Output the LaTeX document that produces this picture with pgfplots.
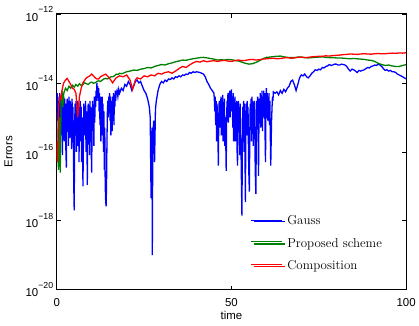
\documentclass[border=0pt]{standalone}
\usepackage{pgfplots}
\pgfplotsset{compat=1.18}
\usepackage{fontspec}
\newfontfamily\hv{Liberation Sans}
\definecolor{mblue}{rgb}{0,0,1}
\definecolor{mgreen}{rgb}{0,0.5,0}
\definecolor{mred}{rgb}{1,0,0}
\newcommand{\tl}[1]{10\raisebox{8.5pt}{\fontsize{8.8}{9}\selectfont −#1}}
\begin{document}
\begin{tikzpicture}
\begin{axis}[
 scale only axis, width=351pt, height=277pt,
 ymode=log, xmin=0, xmax=100, ymin=1e-20, ymax=1e-12,
 xtick={0,50,100}, xticklabels={0,50,100},
 ytick={1e-20,1e-18,1e-16,1e-14,1e-12},
 yticklabels={\tl{20},\tl{18},\tl{16},\tl{14},\tl{12}},
 yminorticks=false, xminorticks=false,
 tick align=inside, major tick length=4pt,
 tick style={black, line width=0.6pt},
 axis line style={line width=1pt},
 ticklabel style={font=\hv\fontsize{11.5}{13}\selectfont},
 xticklabel style={yshift=-5pt},
 xlabel={time}, ylabel={Errors},
 label style={font=\hv\fontsize{11.5}{13}\selectfont},
 xlabel style={at={(axis description cs:0.5,0)}, anchor=base, yshift=-29.5pt},
 ylabel style={at={(axis description cs:0,0.5)}, anchor=center, yshift=48.5pt},
 legend style={draw=none, fill=none, at={(axis description cs:0.553,0.283)}, anchor=north west,
   font=\fontsize{13}{15}\selectfont, row sep=7pt,
   nodes={inner sep=2pt, text height=9pt, text depth=2.5pt}},
 legend cell align=left,
 legend image code/.code={\path (0pt,0pt) -- (31pt,0pt);},
 every axis plot/.append style={line width=1.3pt},
]
\addplot[mblue] coordinates {
(0.000,3e-15) (0.125,5e-15) (0.250,8e-16) (0.375,4e-15) (0.500,1e-16) (0.625,3e-15) (0.750,6e-16) (0.875,5e-15)
(1.000,2e-16) (1.125,4e-15) (1.250,1.5e-15) (1.375,3e-16) (1.500,5e-15) (1.625,8e-17) (1.750,3e-15) (1.875,1e-15)
(2.000,4e-15) (2.125,2e-16) (2.250,3.5e-15) (2.375,7e-16) (2.500,2.5e-15) (2.625,1e-16) (2.750,3.5e-17) (2.875,2e-15)
(3.000,3.5e-15) (3.125,5e-16) (3.250,3e-15) (3.375,1.5e-16) (3.500,4e-15) (3.625,1e-15) (3.750,2.5e-16) (3.875,3e-15)
(4.000,6e-16) (4.125,2.5e-15) (4.250,1.2e-16) (4.375,3.5e-15) (4.500,8e-16) (4.625,2e-15) (4.750,3e-16) (4.875,1e-17)
(5.000,2e-18) (5.125,5e-16) (5.250,2.5e-15) (5.375,4e-16) (5.500,3e-15) (5.625,1e-16) (5.750,2e-15) (5.875,6e-16)
(6.000,3e-15) (6.125,1.5e-16) (6.250,2.5e-15) (6.375,5e-17) (6.500,1.5e-15) (6.625,4e-16) (6.750,3e-15) (6.875,2e-16)
(7.000,2e-15) (7.125,5e-17) (7.250,1e-15) (7.375,8e-16) (7.500,1e-17) (7.625,1.5e-16) (7.750,2.5e-15) (7.875,3e-16)
(8.000,2e-15) (8.125,7e-16) (8.250,3e-15) (8.375,1e-16) (8.500,1.5e-15) (8.625,4e-16) (8.750,1.1e-17) (8.875,6e-16)
(9.000,2.5e-15) (9.125,3e-16) (9.250,2e-15) (9.375,8e-17) (9.500,3e-15) (9.625,5e-16) (9.750,2e-15) (9.875,1e-16)
(10.000,2.5e-17) (10.125,8e-16) (10.250,3e-15) (10.375,4e-16) (10.500,2e-15) (10.625,1.5e-16) (10.750,4e-15) (10.875,7e-16)
(11.000,3e-15) (11.125,2e-15) (11.250,6e-15) (11.375,3e-15) (11.500,1e-14) (11.625,6e-15) (11.750,8e-15) (11.875,3e-15)
(12.000,7e-15) (12.125,1.5e-15) (12.250,5e-15) (12.375,6e-16) (12.500,4e-15) (12.625,2e-16) (12.750,3e-15) (12.875,1e-15)
(13.000,4e-15) (13.125,3e-16) (13.250,2.5e-15) (13.375,1e-16) (13.500,1.5e-15) (13.625,3e-17) (13.750,5e-16) (13.875,1e-17)
(14.000,4e-18) (14.125,2.6e-18) (14.250,1e-17) (14.375,2e-16) (14.500,1.5e-15) (14.625,3e-15) (14.750,1e-15) (14.875,4e-15)
(15.000,2e-15) (15.125,5e-15) (15.250,8e-16) (15.375,4e-15) (15.500,3e-16) (15.625,3e-15) (15.750,1e-15) (15.875,4e-16)
(16.000,4e-15) (16.125,1.5e-15) (16.250,5e-15) (16.375,6e-16) (16.500,4.5e-15) (16.625,2e-15) (16.750,6e-15) (16.875,3e-15)
(17.000,5e-15) (17.250,6e-15) (17.500,4e-15) (17.750,6.5e-15)
(18.0,5e-15) (18.5,7e-15) (19.0,6e-15) (19.5,9e-15) (20.0,8e-15) (20.5,1.1e-14) (21.0,9e-15) (21.5,6e-15)
(22.0,8e-15) (22.5,1.1e-14) (23.0,1.2e-14) (23.5,1e-14) (24.0,1.1e-14) (24.5,8e-15) (25.0,6e-15) (25.5,5e-15)
(26.0,3.5e-15) (26.5,2e-15) (26.75,1e-15) (27.0,4.5e-18) (27.25,5e-16) (27.35,1e-19) (27.5,3e-16) (27.75,8e-16)
(28.0,5e-17) (28.25,1.7e-15) (28.5,3e-15) (29.0,6e-15) (29.5,9e-15) (30.0,1.1e-14) (30.5,1.0e-14) (31.0,1.2e-14)
(31.5,1.1e-14) (32.0,1.3e-14) (32.5,1.25e-14) (33.0,1.4e-14) (33.5,1.3e-14) (34.0,1.5e-14) (34.5,1.45e-14) (35.0,1.6e-14)
(35.5,1.5e-14) (36.0,1.7e-14) (36.5,1.65e-14) (37.0,1.8e-14) (37.5,1.75e-14) (38.0,2e-14) (38.5,1.9e-14) (39.0,2.1e-14)
(39.5,2e-14) (40.0,2.1e-14) (40.5,2.05e-14) (41.0,2e-14) (41.5,1.9e-14) (42.0,1.8e-14) (42.5,1.5e-14) (43.0,1.1e-14)
(43.5,9e-15) (44.0,7e-15) (44.5,6e-15)
(45.000,5e-15) (45.125,3e-15) (45.250,1.5e-15) (45.375,4e-15) (45.500,6e-16) (45.625,3e-15) (45.750,2e-16) (45.875,2.5e-15)
(46.000,1e-15) (46.125,3e-16) (46.250,4e-17) (46.375,1e-15) (46.500,3e-15) (46.625,5e-16) (46.750,2.5e-15) (46.875,1.2e-15)
(47.000,4e-15) (47.125,3e-16) (47.250,3e-15) (47.375,8e-16) (47.500,4.5e-15) (47.625,2e-16) (47.750,2e-15) (47.875,6e-16)
(48.000,3.5e-15) (48.125,1.5e-16) (48.250,1e-15) (48.375,2e-16) (48.500,2.8e-17) (48.625,1e-15) (48.750,3e-15) (48.875,1.5e-15)
(49.000,5e-15) (49.125,7e-16) (49.250,4e-15) (49.375,2e-15) (49.500,6e-15) (49.625,1e-15) (49.750,5e-15) (49.875,2.5e-15)
(50.000,6.5e-15) (50.125,1.5e-15) (50.250,4e-15) (50.375,5e-16) (50.500,5e-15) (50.625,2e-16) (50.750,3e-15) (50.875,8e-16)
(51.000,4e-15) (51.125,2e-16) (51.250,2.5e-15) (51.375,6e-16) (51.500,3e-15) (51.625,1e-16) (51.750,4e-17) (51.875,1e-15)
(52.000,3e-15) (52.125,4e-16) (52.250,2e-15) (52.375,8e-17) (52.500,2.5e-15) (52.625,3e-16) (52.750,1e-16) (52.875,1e-17)
(53.000,1.4e-18) (53.125,2e-16) (53.250,2e-15) (53.375,5e-16) (53.500,3e-15) (53.625,1e-16) (53.750,2.5e-15) (53.875,8e-17)
(54.000,3.5e-18) (54.125,6e-16) (54.250,2.5e-15) (54.375,3e-16) (54.500,3e-15) (54.625,7e-16) (54.750,2e-15) (54.875,1e-16)
(55.000,2e-17) (55.125,7e-18) (55.250,3e-16) (55.375,2.5e-15) (55.500,6e-16) (55.625,3.5e-15) (55.750,2e-16) (55.875,4e-15)
(56.000,1e-15) (56.125,3e-15) (56.250,1.5e-16) (56.375,2e-15) (56.500,5e-16) (56.625,3e-15) (56.750,8e-17) (56.875,1.5e-17)
(57.000,6e-18) (57.125,4e-16) (57.250,3e-15) (57.375,1e-15) (57.500,4e-15) (57.625,3e-16) (57.750,2e-17) (57.875,8e-16)
(58.000,3.5e-15) (58.125,1e-15) (58.250,5e-15) (58.375,5e-16) (58.500,4.5e-15) (58.625,2e-15) (58.750,6e-15) (58.875,4e-16)
(59.000,4e-15) (59.125,1e-15) (59.250,6e-15) (59.375,2e-15) (59.500,5e-15) (59.625,3e-16) (59.750,5e-17) (59.875,2e-15)
(60.000,7e-15) (60.125,3e-15) (60.250,5e-15) (60.375,8e-16) (60.500,4e-15) (60.625,1.5e-15) (60.750,5e-15) (60.875,6e-16)
(61.000,3e-15) (61.125,3e-16) (61.250,4e-17) (61.375,2e-16) (61.500,9e-16) (61.625,2e-15) (61.750,4e-15) (61.875,3e-15)
(62.0,5.5e-15)
(62.5,5e-15) (63.0,5.5e-15) (63.5,4.5e-15) (64.0,6e-15) (64.5,5e-15) (65.0,6.5e-15) (65.5,5.5e-15) (66.0,7e-15)
(66.5,8e-15) (67.0,1.1e-14) (67.5,1.2e-14) (68.0,9e-15) (68.5,6e-15) (69.0,9e-15) (69.5,1.4e-14) (70.0,1.7e-14)
(70.5,1.6e-14) (71.0,1.8e-14) (71.5,1.5e-14) (72.0,1.4e-14) (72.5,1.6e-14) (73.0,1.9e-14) (73.5,2.1e-14) (74.0,2.4e-14)
(74.5,2.3e-14) (75.0,2.5e-14) (75.5,2.4e-14) (76.0,2.8e-14) (76.5,2.7e-14) (77.0,3e-14) (77.5,3.1e-14) (78.0,3.4e-14)
(78.5,3.2e-14) (79.0,3.3e-14) (79.5,3.5e-14) (80.0,3.5e-14) (80.5,3.3e-14) (81.0,3.3e-14) (81.5,3.5e-14) (82.0,3.4e-14)
(82.5,3.3e-14) (83.0,3e-14) (83.5,2.5e-14) (84.0,2.2e-14) (84.5,2.5e-14) (85.0,2.4e-14) (85.5,2.2e-14) (86.0,2e-14)
(86.5,2.3e-14) (87.0,2.2e-14) (87.5,2.3e-14) (88.0,2.4e-14) (88.5,2.6e-14) (89.0,2.8e-14) (89.5,2.7e-14) (90.0,3e-14)
(90.5,3.1e-14) (91.0,3.3e-14) (91.5,3.2e-14) (92.0,3.5e-14) (92.5,3.3e-14) (93.0,3e-14) (93.5,2.6e-14) (94.0,2.3e-14)
(94.5,2.4e-14) (95.0,2.2e-14) (95.5,2.3e-14) (96.0,2.1e-14) (96.5,2.1e-14) (97.0,2e-14) (97.5,1.8e-14) (98.0,1.7e-14)
(98.5,1.6e-14) (99.0,1.5e-14) (99.5,1.4e-14) (100.0,1.3e-14)
};
\addlegendentry{Gauss}
\addplot[mgreen] coordinates {
(0.0,5e-17) (0.25,2e-16) (0.5,3e-17) (0.75,1e-15) (1.0,2.5e-17) (1.25,3e-15) (1.5,6e-15) (1.75,2e-15)
(2.0,5e-15) (2.5,7e-15) (3.0,6e-15) (3.5,8e-15) (4.0,7e-15) (4.5,8.5e-15) (5.0,7.5e-15) (5.5,9e-15)
(6.0,8e-15) (6.5,9.5e-15) (7.0,8.5e-15) (7.5,9e-15) (8.0,1e-14) (8.5,9.5e-15) (9.0,9e-15) (9.5,1e-14)
(10.0,1.05e-14) (10.5,9.8e-15) (11.0,1e-14) (11.5,1.1e-14) (12.0,1.15e-14) (12.5,1.1e-14) (13.0,1.2e-14) (13.5,1.3e-14)
(14.0,1.35e-14) (14.5,1.3e-14) (15.0,1.4e-14) (15.5,1.5e-14) (16.0,1.5e-14) (16.5,1.6e-14) (17.0,1.8e-14) (17.5,1.75e-14)
(18.0,1.9e-14) (18.5,1.85e-14) (19.0,1.9e-14) (19.5,2e-14) (20.0,2.1e-14) (21.0,2.2e-14) (22.0,2.35e-14) (23.0,2.3e-14)
(24.0,2.5e-14) (25.0,2.6e-14) (26.0,2.8e-14) (27.0,2.7e-14) (28.0,3e-14) (29.0,3.2e-14) (30.0,3.4e-14) (31.0,3.3e-14)
(32.0,3.6e-14) (33.0,3.8e-14) (34.0,4.1e-14) (35.0,4.3e-14) (36.0,4.6e-14) (37.0,4.5e-14) (38.0,4.8e-14) (39.0,5e-14)
(40.0,5.2e-14) (41.0,5.4e-14) (42.0,5.5e-14) (43.0,5.3e-14) (44.0,5.1e-14) (45.0,4.9e-14) (46.0,4.6e-14) (47.0,4.7e-14)
(48.0,4.6e-14) (49.0,4.8e-14) (50.0,4.7e-14) (51.0,4.5e-14) (52.0,4.3e-14) (53.0,4e-14) (54.0,3.7e-14) (55.0,3.5e-14)
(56.0,3.6e-14) (57.0,3.9e-14) (58.0,4.4e-14) (59.0,5e-14) (60.0,5.5e-14) (61.0,5.6e-14) (62.0,5.8e-14) (63.0,5.9e-14)
(64.0,6e-14) (65.0,5.7e-14) (66.0,5.5e-14) (67.0,5.4e-14) (68.0,5.4e-14) (69.0,5.6e-14) (70.0,5.6e-14) (71.0,5.4e-14)
(72.0,5.3e-14) (73.0,5.4e-14) (74.0,5.5e-14) (75.0,5.6e-14) (76.0,5.7e-14) (77.0,5.5e-14) (78.0,5.4e-14) (79.0,5.4e-14)
(80.0,5.3e-14) (81.0,5.3e-14) (82.0,5.2e-14) (83.0,5.1e-14) (84.0,5e-14) (85.0,5.1e-14) (86.0,5e-14) (87.0,4.9e-14)
(88.0,4.8e-14) (89.0,4.6e-14) (90.0,4.5e-14) (91.0,4.2e-14) (92.0,3.7e-14) (93.0,3.4e-14) (94.0,3.2e-14) (95.0,3.3e-14)
(96.0,3.1e-14) (97.0,3e-14) (98.0,3e-14) (99.0,3.2e-14) (100.0,3.4e-14)
};
\addlegendentry{Proposed scheme}
\addplot[mred] coordinates {
(0.0,2e-16) (0.25,5e-17) (0.5,2e-15) (0.75,3e-15) (1.0,4e-15) (1.25,3.5e-15) (1.5,6e-15) (1.75,8e-15)
(2.0,1e-14) (2.5,1.2e-14) (3.0,1.35e-14) (3.5,1.1e-14) (4.0,9e-15) (4.5,7e-15) (5.0,6.5e-15) (5.5,5e-15)
(6.0,1e-15) (6.25,2e-15) (6.5,4e-15) (7.0,7e-15) (7.5,1e-14) (8.0,1.2e-14) (8.5,1.4e-14) (9.0,1.5e-14)
(9.5,1.6e-14) (10.0,1.8e-14) (10.5,1.6e-14) (11.0,1.4e-14) (11.5,1.3e-14) (12.0,1.3e-14) (12.5,1.5e-14) (13.0,1.6e-14)
(13.5,1.7e-14) (14.0,1.8e-14) (14.5,1.6e-14) (15.0,1.4e-14) (15.5,1.2e-14) (16.0,1e-14) (16.5,1.2e-14) (17.0,1.4e-14)
(17.5,1.5e-14) (18.0,1.6e-14) (19.0,1.5e-14) (20.0,1.7e-14) (21.0,1.2e-14) (21.7,6.5e-15) (22.5,1.2e-14) (23.0,1.4e-14)
(24.0,1.3e-14) (25.0,1.6e-14) (26.0,1.5e-14) (27.0,1.7e-14) (28.0,1.6e-14) (29.0,1.9e-14) (30.0,1.8e-14) (31.0,2e-14)
(32.0,2.1e-14) (33.0,1.9e-14) (34.0,2.2e-14) (35.0,2.6e-14) (36.0,3e-14) (37.0,2.8e-14) (38.0,3.3e-14) (39.0,3.8e-14)
(40.0,4.2e-14) (41.0,4e-14) (42.0,4.4e-14) (43.0,4.1e-14) (44.0,4.3e-14) (45.0,4.4e-14) (46.0,4.2e-14) (47.0,4.4e-14)
(48.0,4.5e-14) (49.0,4.3e-14) (50.0,4.2e-14) (51.0,4.4e-14) (52.0,4.6e-14) (53.0,4.4e-14) (54.0,4.5e-14) (55.0,4.7e-14)
(56.0,4.8e-14) (57.0,4.6e-14) (58.0,4.7e-14) (59.0,4.9e-14) (60.0,5e-14) (61.0,5.1e-14) (62.0,5.2e-14) (63.0,5e-14)
(64.0,5.1e-14) (65.0,5.3e-14) (66.0,5.4e-14) (67.0,5.2e-14) (68.0,5.3e-14) (69.0,5.5e-14) (70.0,5.6e-14) (71.0,5.4e-14)
(72.0,5.5e-14) (73.0,5.7e-14) (74.0,5.8e-14) (75.0,5.9e-14) (76.0,5.9e-14) (77.0,6.1e-14) (78.0,6e-14) (79.0,6.2e-14)
(80.0,6.3e-14) (81.0,6.4e-14) (82.0,6.6e-14) (83.0,6.7e-14) (84.0,6.9e-14) (85.0,6.8e-14) (86.0,6.7e-14) (87.0,6.9e-14)
(88.0,7e-14) (89.0,6.9e-14) (90.0,6.8e-14) (91.0,7e-14) (92.0,7.1e-14) (93.0,7e-14) (94.0,7e-14) (95.0,7.2e-14)
(96.0,7.3e-14) (97.0,7.2e-14) (98.0,7.4e-14) (99.0,7.3e-14) (100.0,7.5e-14)
};
\addlegendentry{Composition}
\addplot[mblue, line width=1pt, forget plot] coordinates {(55.47,1.02e-18) (64.47,1.02e-18)};
\addplot[mgreen, line width=1pt, forget plot] coordinates {(55.47,2.52e-19) (64.47,2.52e-19)};
\addplot[mred, line width=1pt, forget plot] coordinates {(55.47,5.45e-20) (64.47,5.45e-20)};
\end{axis}
\path[draw=none] (current axis.south west) ++(-57pt,-36pt) rectangle ++(419pt,327pt);
\end{tikzpicture}
\end{document}
